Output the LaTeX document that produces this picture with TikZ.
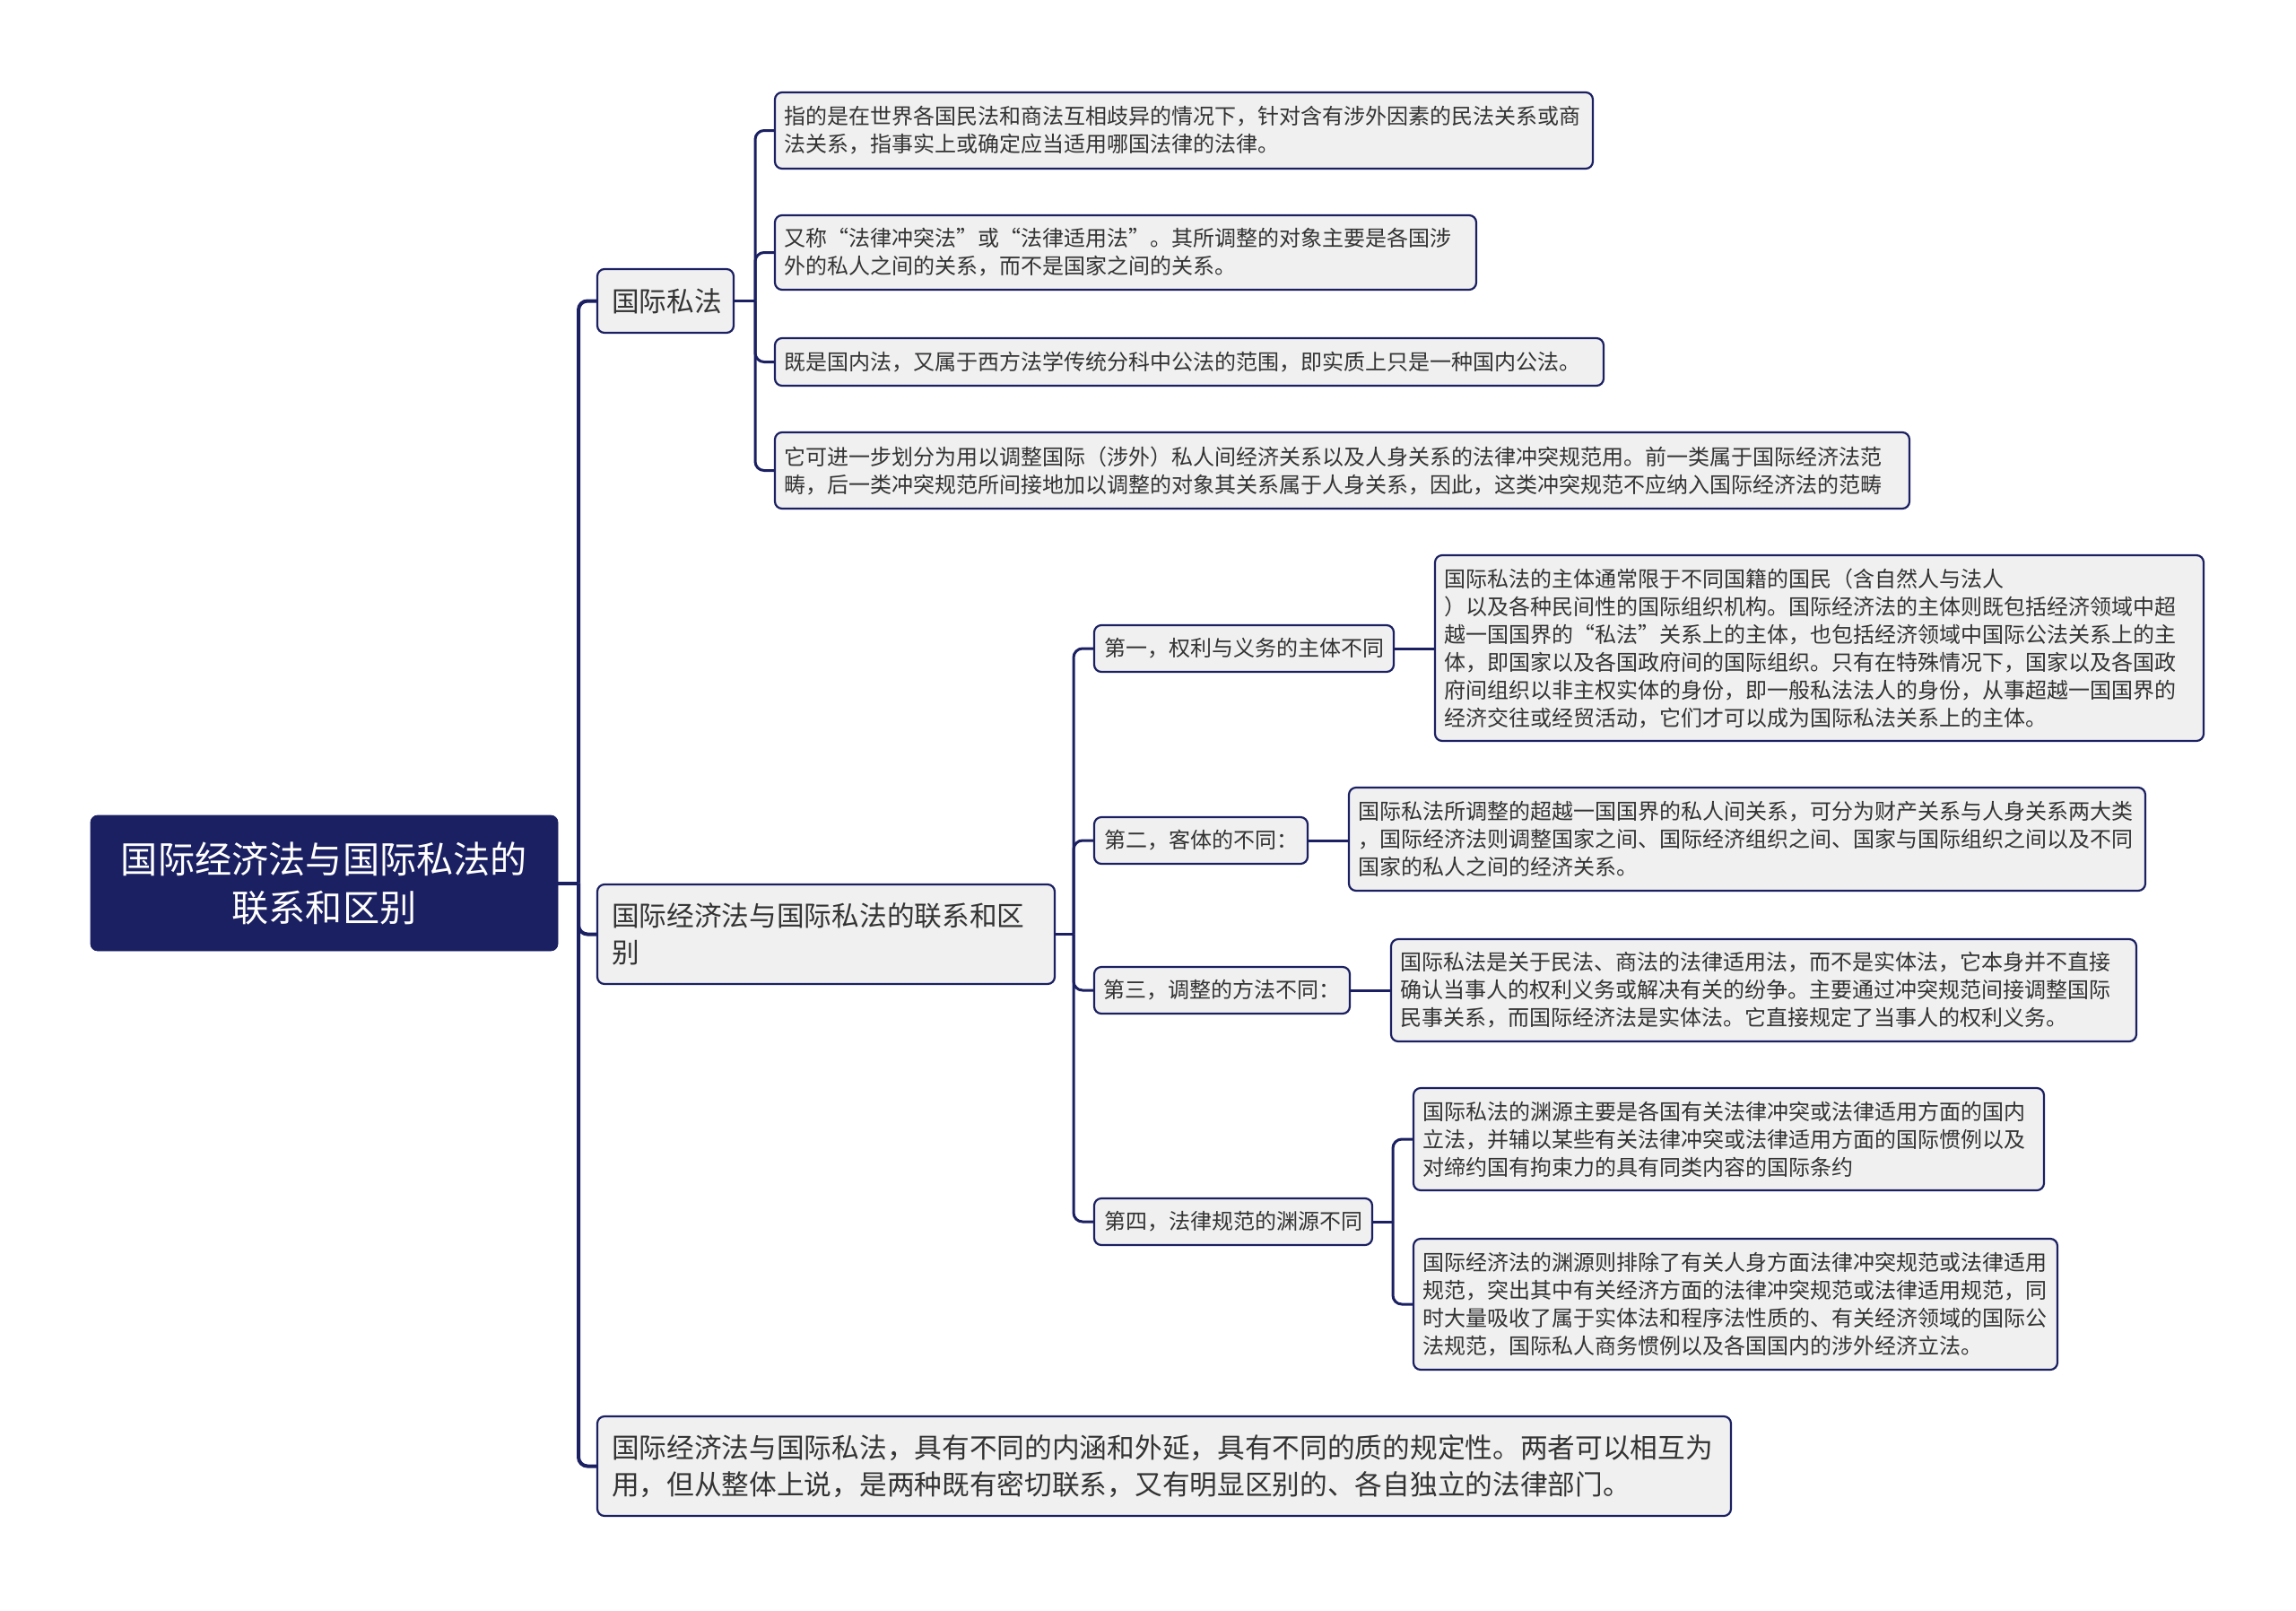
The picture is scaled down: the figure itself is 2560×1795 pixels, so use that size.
\documentclass[tikz,border=0pt]{standalone}
\usepackage{fontspec}
\newfontfamily\cjk{Noto Sans CJK SC}
\definecolor{navy}{HTML}{1B2062}
\definecolor{boxgray}{HTML}{F0F0F0}
\definecolor{txt}{HTML}{333333}
\begin{document}
\begin{tikzpicture}[x=0.5pt,y=-0.5pt,
  conn/.style={draw=navy,line width=1.5pt,rounded corners=5pt},
  trunk/.style={conn,line width=2pt},
  box/.style={draw=navy,fill=boxgray,line width=1.1pt,rounded corners=4pt,text=txt,
    inner xsep=5pt,inner ysep=0pt,align=left,
    font=\cjk\fontsize{12}{15.5}\selectfont},
  l1/.style={box,font=\cjk\fontsize{15.35}{20.5}\selectfont,inner xsep=8pt},
  l2/.style={box,align=center,inner xsep=0pt,minimum height=26pt},
  rootbox/.style={draw=navy,fill=navy,rounded corners=4pt,text=white,align=center,
    inner sep=0pt,font=\cjk\fontsize{20.6}{27}\selectfont}
]
\fill[white] (0,0) rectangle (2560,1795);
\useasboundingbox (0,0) rectangle (2560,1795);

% root
\node[rootbox,minimum width=260.5pt,minimum height=75.5pt] (root) at (361.5,984.5)
  {国际经济法与国际私法的\\联系和区别};

% level 1
\node[l1,text width=60pt,minimum height=35.5pt] (L1a) at (742,335.5) {国际私法};
\node[l1,text width=239pt,minimum height=55.5pt] (L1b) at (921,1041.5)
  {国际经济法与国际私法的联系和区\\别};
\node[l1,text width=616pt,minimum height=55.5pt] (L1c) at (1298,1634.5)
  {国际经济法与国际私法，具有不同的内涵和外延，具有不同的质的规定性。两者可以相互为\\用，但从整体上说，是两种既有密切联系，又有明显区别的、各自独立的法律部门。};

% level 2 under 国际私法
\node[box,text width=446pt,minimum height=42.5pt] (A1) at (1320,145.5)
  {指的是在世界各国民法和商法互相歧异的情况下，针对含有涉外因素的民法关系或商\\法关系，指事实上或确定应当适用哪国法律的法律。};
\node[box,text width=381pt,minimum height=41.5pt] (A2) at (1255,281.5)
  {又称“法律冲突法”或“法律适用法”。其所调整的对象主要是各国涉\\外的私人之间的关系，而不是国家之间的关系。};
\node[box,text width=452pt,minimum height=26.5pt] (A3) at (1326,403.5)
  {既是国内法，又属于西方法学传统分科中公法的范围，即实质上只是一种国内公法。};
\node[box,text width=622.5pt,minimum height=42.5pt] (A4) at (1496.5,524.5)
  {它可进一步划分为用以调整国际（涉外）私人间经济关系以及人身关系的法律冲突规范用。前一类属于国际经济法范\\畴，后一类冲突规范所间接地加以调整的对象其关系属于人身关系，因此，这类冲突规范不应纳入国际经济法的范畴};

% level 2 under 联系和区别
\node[l2,minimum width=167pt] (B1) at (1387,723) {第一，权利与义务的主体不同};
\node[l2,minimum width=119pt] (B2) at (1339,937) {第二，客体的不同：};
\node[l2,minimum width=142.5pt] (B3) at (1362.5,1104) {第三，调整的方法不同：};
\node[l2,minimum width=155pt] (B4) at (1375,1362) {第四，法律规范的渊源不同};

% level 3
\node[box,text width=418.5pt,minimum height=103.5pt] (C1) at (2028.5,722.5)
  {国际私法的主体通常限于不同国籍的国民（含自然人与法人\\）以及各种民间性的国际组织机构。国际经济法的主体则既包括经济领域中超\\越一国国界的“私法”关系上的主体，也包括经济领域中国际公法关系上的主\\体，即国家以及各国政府间的国际组织。只有在特殊情况下，国家以及各国政\\府间组织以非主权实体的身份，即一般私法法人的身份，从事超越一国国界的\\经济交往或经贸活动，它们才可以成为国际私法关系上的主体。};
\node[box,text width=434pt,minimum height=57.5pt] (C2) at (1948,935.5)
  {国际私法所调整的超越一国国界的私人间关系，可分为财产关系与人身关系两大类\\，国际经济法则调整国家之间、国际经济组织之间、国家与国际组织之间以及不同\\国家的私人之间的经济关系。};
\node[box,text width=405.5pt,minimum height=57pt] (C3) at (1966.5,1104)
  {国际私法是关于民法、商法的法律适用法，而不是实体法，它本身并不直接\\确认当事人的权利义务或解决有关的纷争。主要通过冲突规范间接调整国际\\民事关系，而国际经济法是实体法。它直接规定了当事人的权利义务。};
\node[box,text width=341.5pt,minimum height=57pt] (C4) at (1927.5,1270)
  {国际私法的渊源主要是各国有关法律冲突或法律适用方面的国内\\立法，并辅以某些有关法律冲突或法律适用方面的国际惯例以及\\对缔约国有拘束力的具有同类内容的国际条约};
\node[box,text width=349pt,minimum height=73pt] (C5) at (1935,1454)
  {国际经济法的渊源则排除了有关人身方面法律冲突规范或法律适用\\规范，突出其中有关经济方面的法律冲突规范或法律适用规范，同\\时大量吸收了属于实体法和程序法性质的、有关经济领域的国际公\\法规范，国际私人商务惯例以及各国国内的涉外经济立法。};

% connectors
\coordinate (j0) at (645,984.5);
\draw[trunk] (root.east) -- (j0);
\draw[trunk] (j0) |- (L1a.west);
\draw[trunk] (j0) |- (L1b.west);
\draw[trunk] (j0) |- (L1c.west);

\coordinate (j1) at (842,335.5);
\draw[conn] (L1a.east) -- (j1);
\draw[conn] (j1) |- (A1.west);
\draw[conn] (j1) |- (A2.west);
\draw[conn] (j1) |- (A3.west);
\draw[conn] (j1) |- (A4.west);

\coordinate (j2) at (1197,1041.5);
\draw[conn] (L1b.east) -- (j2);
\draw[conn] (j2) |- (B1.west);
\draw[conn] (j2) |- (B2.west);
\draw[conn] (j2) |- (B3.west);
\draw[conn] (j2) |- (B4.west);

\draw[conn] (B1.east) -- (C1.west |- B1.east);
\draw[conn] (B2.east) -- (C2.west |- B2.east);
\draw[conn] (B3.east) -- (C3.west |- B3.east);

\coordinate (j3) at (1553,1362);
\draw[conn] (B4.east) -- (j3);
\draw[conn] (j3) |- (C4.west);
\draw[conn] (j3) |- (C5.west);
\end{tikzpicture}
\end{document}
